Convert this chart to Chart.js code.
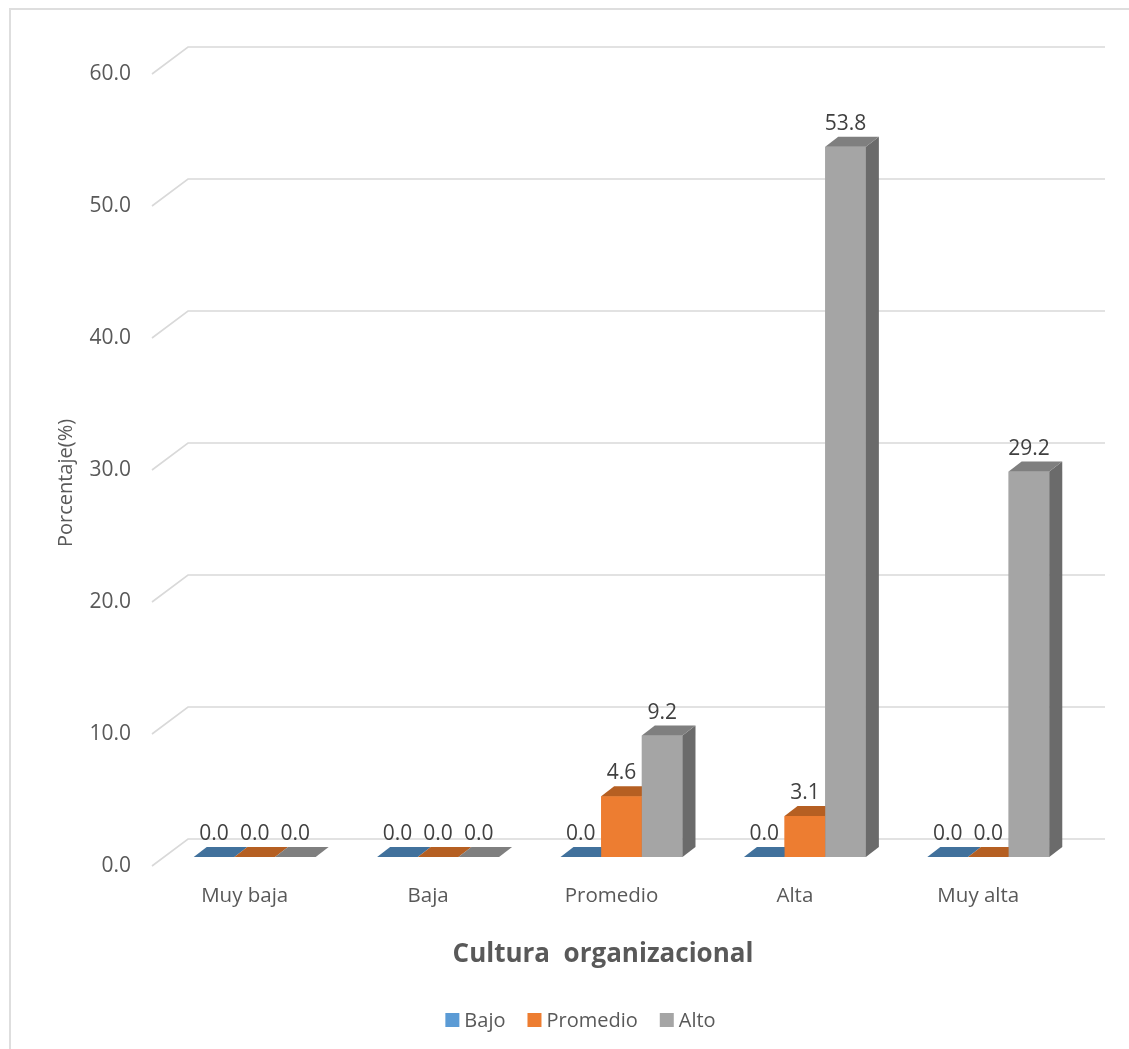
<!DOCTYPE html>
<html>
<head>
<meta charset="utf-8">
<script src="https://cdn.jsdelivr.net/npm/chart.js@4.4.1/dist/chart.umd.min.js"></script>
<style>
  html, body { margin: 0; padding: 0; background: #fff; overflow: hidden; }
  #frame { position: absolute; left: 9px; top: 8px; width: 1200px; height: 1100px; border: 2px solid #dedede; }
  #c { position: absolute; left: 0; top: 0; }
</style>
</head>
<body>
<div id="frame"></div>
<canvas id="c" width="1129" height="1049"></canvas>
<script>
// Categories, series and tick values
const categories = ['Muy baja', 'Baja', 'Promedio', 'Alta', 'Muy alta'];
const seriesNames = ['Bajo', 'Promedio', 'Alto'];
const bajo = [0.0, 0.0, 0.0, 0.0, 0.0];
const promedio = [0.0, 0.0, 4.6, 3.1, 0.0];
const alto = [0.0, 0.0, 9.2, 53.8, 29.2];
const yTicks = [0, 10, 20, 30, 40, 50, 60];

const xTitle = 'Cultura  organizacional';
const yTitle = 'Porcentaje(%)';

// Face colours for the pseudo-3D columns
const frontColors = ['#5b9bd5', '#ed7d31', '#a5a5a5'];
const topColors = ['#41719c', '#b55f22', '#7f7f7f'];
const sideColors = ['#3a6690', '#a85822', '#6b6b6b'];

const FONT = '"Open Sans", "DejaVu Sans", sans-serif';
const TEXT = '#595959';

// Offsets of the floor/wall planes relative to the column plane
const DEPTH = { dx: 13, dy: -10 };      // column thickness
const FRONT = { dx: -11, dy: 9 };       // front edge of the floor
const BACK = { dx: 25, dy: -18 };       // back wall

const bar3d = {
  id: 'bar3d',
  beforeDatasetsDraw(chart) {
    const { ctx, chartArea: a } = chart;
    const ys = chart.scales.y;
    ctx.save();
    ctx.strokeStyle = '#d9d9d9';
    ctx.lineWidth = 1.6;
    yTicks.forEach(v => {
      const y = ys.getPixelForValue(v);
      ctx.beginPath();
      ctx.moveTo(a.left + FRONT.dx, y + FRONT.dy);
      ctx.lineTo(a.left + BACK.dx, y + BACK.dy);
      ctx.lineTo(a.right + BACK.dx, y + BACK.dy);
      ctx.stroke();
    });
    ctx.restore();
  },
  afterDatasetsDraw(chart) {
    const ctx = chart.ctx;
    ctx.save();
    const labels = [];
    chart.data.datasets.forEach((ds, i) => {
      const meta = chart.getDatasetMeta(i);
      meta.data.forEach((bar, j) => {
        const p = bar.getProps(['x', 'y', 'base', 'width'], true);
        const x0 = p.x - p.width / 2, x1 = p.x + p.width / 2;
        const yt = p.y, yb = p.base;
        // front face
        if (yb - yt > 0.5) {
          ctx.fillStyle = frontColors[i];
          ctx.fillRect(x0, yt, x1 - x0, yb - yt);
          // side face
          ctx.fillStyle = sideColors[i];
          ctx.beginPath();
          ctx.moveTo(x1, yt);
          ctx.lineTo(x1 + DEPTH.dx, yt + DEPTH.dy);
          ctx.lineTo(x1 + DEPTH.dx, yb + DEPTH.dy);
          ctx.lineTo(x1, yb);
          ctx.closePath();
          ctx.fill();
        }
        // top face
        ctx.fillStyle = topColors[i];
        ctx.beginPath();
        ctx.moveTo(x0, yt);
        ctx.lineTo(x1, yt);
        ctx.lineTo(x1 + DEPTH.dx, yt + DEPTH.dy);
        ctx.lineTo(x0 + DEPTH.dx, yt + DEPTH.dy);
        ctx.closePath();
        ctx.fill();
        labels.push({ x: p.x, y: yt, v: ds.data[j] });
      });
    });
    ctx.fillStyle = '#404040';
    ctx.font = '21px ' + FONT;
    ctx.textAlign = 'center';
    ctx.textBaseline = 'alphabetic';
    labels.forEach(l => ctx.fillText(l.v.toFixed(1), l.x, l.y - 17));
    ctx.restore();
  },
  afterDraw(chart) {
    const ctx = chart.ctx;
    ctx.save();
    ctx.fillStyle = TEXT;
    // x-axis title
    ctx.font = 'bold 26px ' + FONT;
    ctx.textAlign = 'center';
    ctx.textBaseline = 'middle';
    ctx.fillText(xTitle, 603, 955);
    // y-axis title
    ctx.save();
    ctx.translate(66, 483);
    ctx.rotate(-Math.PI / 2);
    ctx.font = '20px ' + FONT;
    ctx.fillText(yTitle, 0, 0);
    ctx.restore();
    // legend
    ctx.font = '20px ' + FONT;
    const box = 14, gapText = 5, gapItem = 22;
    const widths = chart.data.datasets.map(d => box + gapText + ctx.measureText(d.label).width);
    const total = widths.reduce((s, w) => s + w, 0) + gapItem * (widths.length - 1);
    let x = 580.5 - total / 2;
    const cy = 1020;
    ctx.textAlign = 'left';
    chart.data.datasets.forEach((d, i) => {
      ctx.fillStyle = frontColors[i];
      ctx.fillRect(x, cy - box / 2, box, box);
      ctx.fillStyle = TEXT;
      ctx.fillText(d.label, x + box + gapText, cy + 1);
      x += widths[i] + gapItem;
    });
    ctx.restore();
  }
};

new Chart(document.getElementById('c'), {
  type: 'bar',
  data: {
    labels: categories,
    datasets: [
      { label: seriesNames[0], data: bajo, backgroundColor: frontColors[0] },
      { label: seriesNames[1], data: promedio, backgroundColor: frontColors[1] },
      { label: seriesNames[2], data: alto, backgroundColor: frontColors[2] }
    ]
  },
  options: {
    responsive: false,
    animation: false,
    layout: { padding: { left: 0, right: 49, top: 65, bottom: 0 } },
    datasets: { bar: { barPercentage: 1.0, categoryPercentage: 0.665, borderWidth: 0 } },
    plugins: { legend: { display: false }, tooltip: { enabled: false } },
    scales: {
      x: {
        grid: { display: false, drawTicks: false },
        border: { display: false },
        ticks: { color: TEXT, font: { family: FONT, size: 20.5 }, padding: 27, labelOffset: -10, maxRotation: 0 },
        afterFit(s) { s.height = 192; }
      },
      y: {
        min: 0, max: 60,
        afterBuildTicks(s) { s.ticks = yTicks.map(v => ({ value: v })); },
        grid: { display: false, drawTicks: false },
        border: { display: false },
        ticks: { color: TEXT, font: { family: FONT, size: 21 }, padding: 32, labelOffset: 9,
                 callback: v => Number(v).toFixed(1) },
        afterFit(s) { s.width = 163; }
      }
    }
  },
  plugins: [bar3d]
});
</script>
</body>
</html>
